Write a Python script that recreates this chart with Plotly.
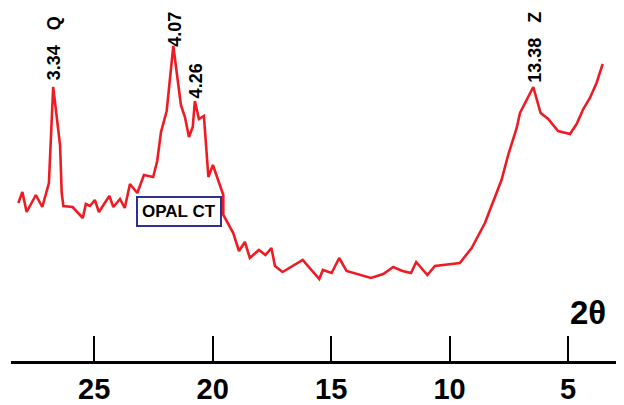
import plotly.graph_objects as go

# 2-theta (degrees) and intensity (arbitrary units)
two_theta = [28.20, 28.03, 27.85, 27.46, 27.19, 26.91, 26.73, 26.44, 26.37, 26.30,
             25.91, 25.48, 25.35, 25.18, 24.97, 24.80, 24.36, 24.19, 23.91, 23.71,
             23.49, 23.18, 22.90, 22.51, 22.34, 22.18, 21.94, 21.66, 21.34, 21.17,
             21.00, 20.84, 20.75, 20.58, 20.37, 20.18, 19.99, 19.55, 19.55, 19.13,
             18.89, 18.64, 18.43, 18.05, 17.77, 17.52, 17.37, 17.05, 16.20, 15.50,
             15.35, 14.98, 14.66, 14.35, 13.32, 12.80, 12.38, 11.99, 11.63, 11.41,
             10.94, 10.62, 9.57, 9.07, 8.51, 7.81, 7.53, 7.17, 7.03, 6.47,
             6.16, 5.84, 5.42, 4.92, 4.64, 4.36, 4.08, 3.80, 3.54]
intensity = [158, 169, 149, 166, 154, 178, 274, 216, 168, 155,
             154, 143, 157, 155, 161, 149, 165, 154, 162, 153,
             177, 168, 186, 184, 200, 229, 250, 315, 256, 244,
             224, 234, 260, 242, 245, 184, 196, 166, 146, 128,
             110, 119, 103, 111, 106, 113, 95, 89, 101, 82,
             91, 88, 103, 90, 83, 87, 94, 90, 88, 99,
             86, 95, 98, 113, 138, 181, 206, 233, 248, 274,
             248, 242, 230, 227, 237, 252, 263, 278, 297]

# peak labels: (index of peak in arrays, label text)
peak_index = [6, 27, 32, 69]
peak_text = ["3.34\u00a0\u00a0\u00a0Q", "4.07", "4.26", "13.38\u00a0\u00a0\u00a0Z"]

tick_values = [25, 20, 15, 10, 5]
tick_labels = ["25", "20", "15", "10", "5"]

FONT = "Liberation Sans, Arial, sans-serif"

fig = go.Figure()
fig.add_trace(go.Scatter(
    x=two_theta, y=intensity, mode="lines",
    line=dict(color="#ed1c24", width=2.6),
    hoverinfo="skip", showlegend=False,
))

label_yshift = [5, -3, 1, 2]
for i, txt, ys in zip(peak_index, peak_text, label_yshift):
    fig.add_annotation(
        x=two_theta[i], y=intensity[i], text=txt, textangle=-90,
        showarrow=False, xanchor="center", yanchor="bottom", yshift=ys, xshift=1,
        font=dict(family=FONT, size=18, color="black", weight="bold"),
    )

fig.add_annotation(
    x=21.44, y=149.3, text="OPAL CT", showarrow=False,
    xanchor="center", yanchor="middle",
    font=dict(family=FONT, size=17, color="black", weight="bold"),
    bgcolor="white", bordercolor="#2e3192", borderwidth=2, borderpad=4,
)

fig.add_annotation(
    x=4.16, y=48.5, text="2θ", showarrow=False,
    xanchor="center", yanchor="middle",
    font=dict(family=FONT, size=33, color="black", weight="bold"),
)

# page body has an 8px margin, so the figure is sized/margined to compensate
fig.update_layout(
    width=616, height=397,
    margin=dict(l=3, r=4, t=0, b=44),
    paper_bgcolor="white", plot_bgcolor="white",
    xaxis=dict(
        range=[28.51, 2.81], showgrid=False, zeroline=False,
        showline=True, linecolor="black", linewidth=3,
        ticks="inside", ticklen=25, tickwidth=2, tickcolor="black",
        tickvals=tick_values, ticktext=tick_labels,
        tickfont=dict(family=FONT, size=29, color="black", weight="bold"),
    ),
    yaxis=dict(range=[0, 353], visible=False, showgrid=False, zeroline=False),
)

fig.write_html("out.html")
